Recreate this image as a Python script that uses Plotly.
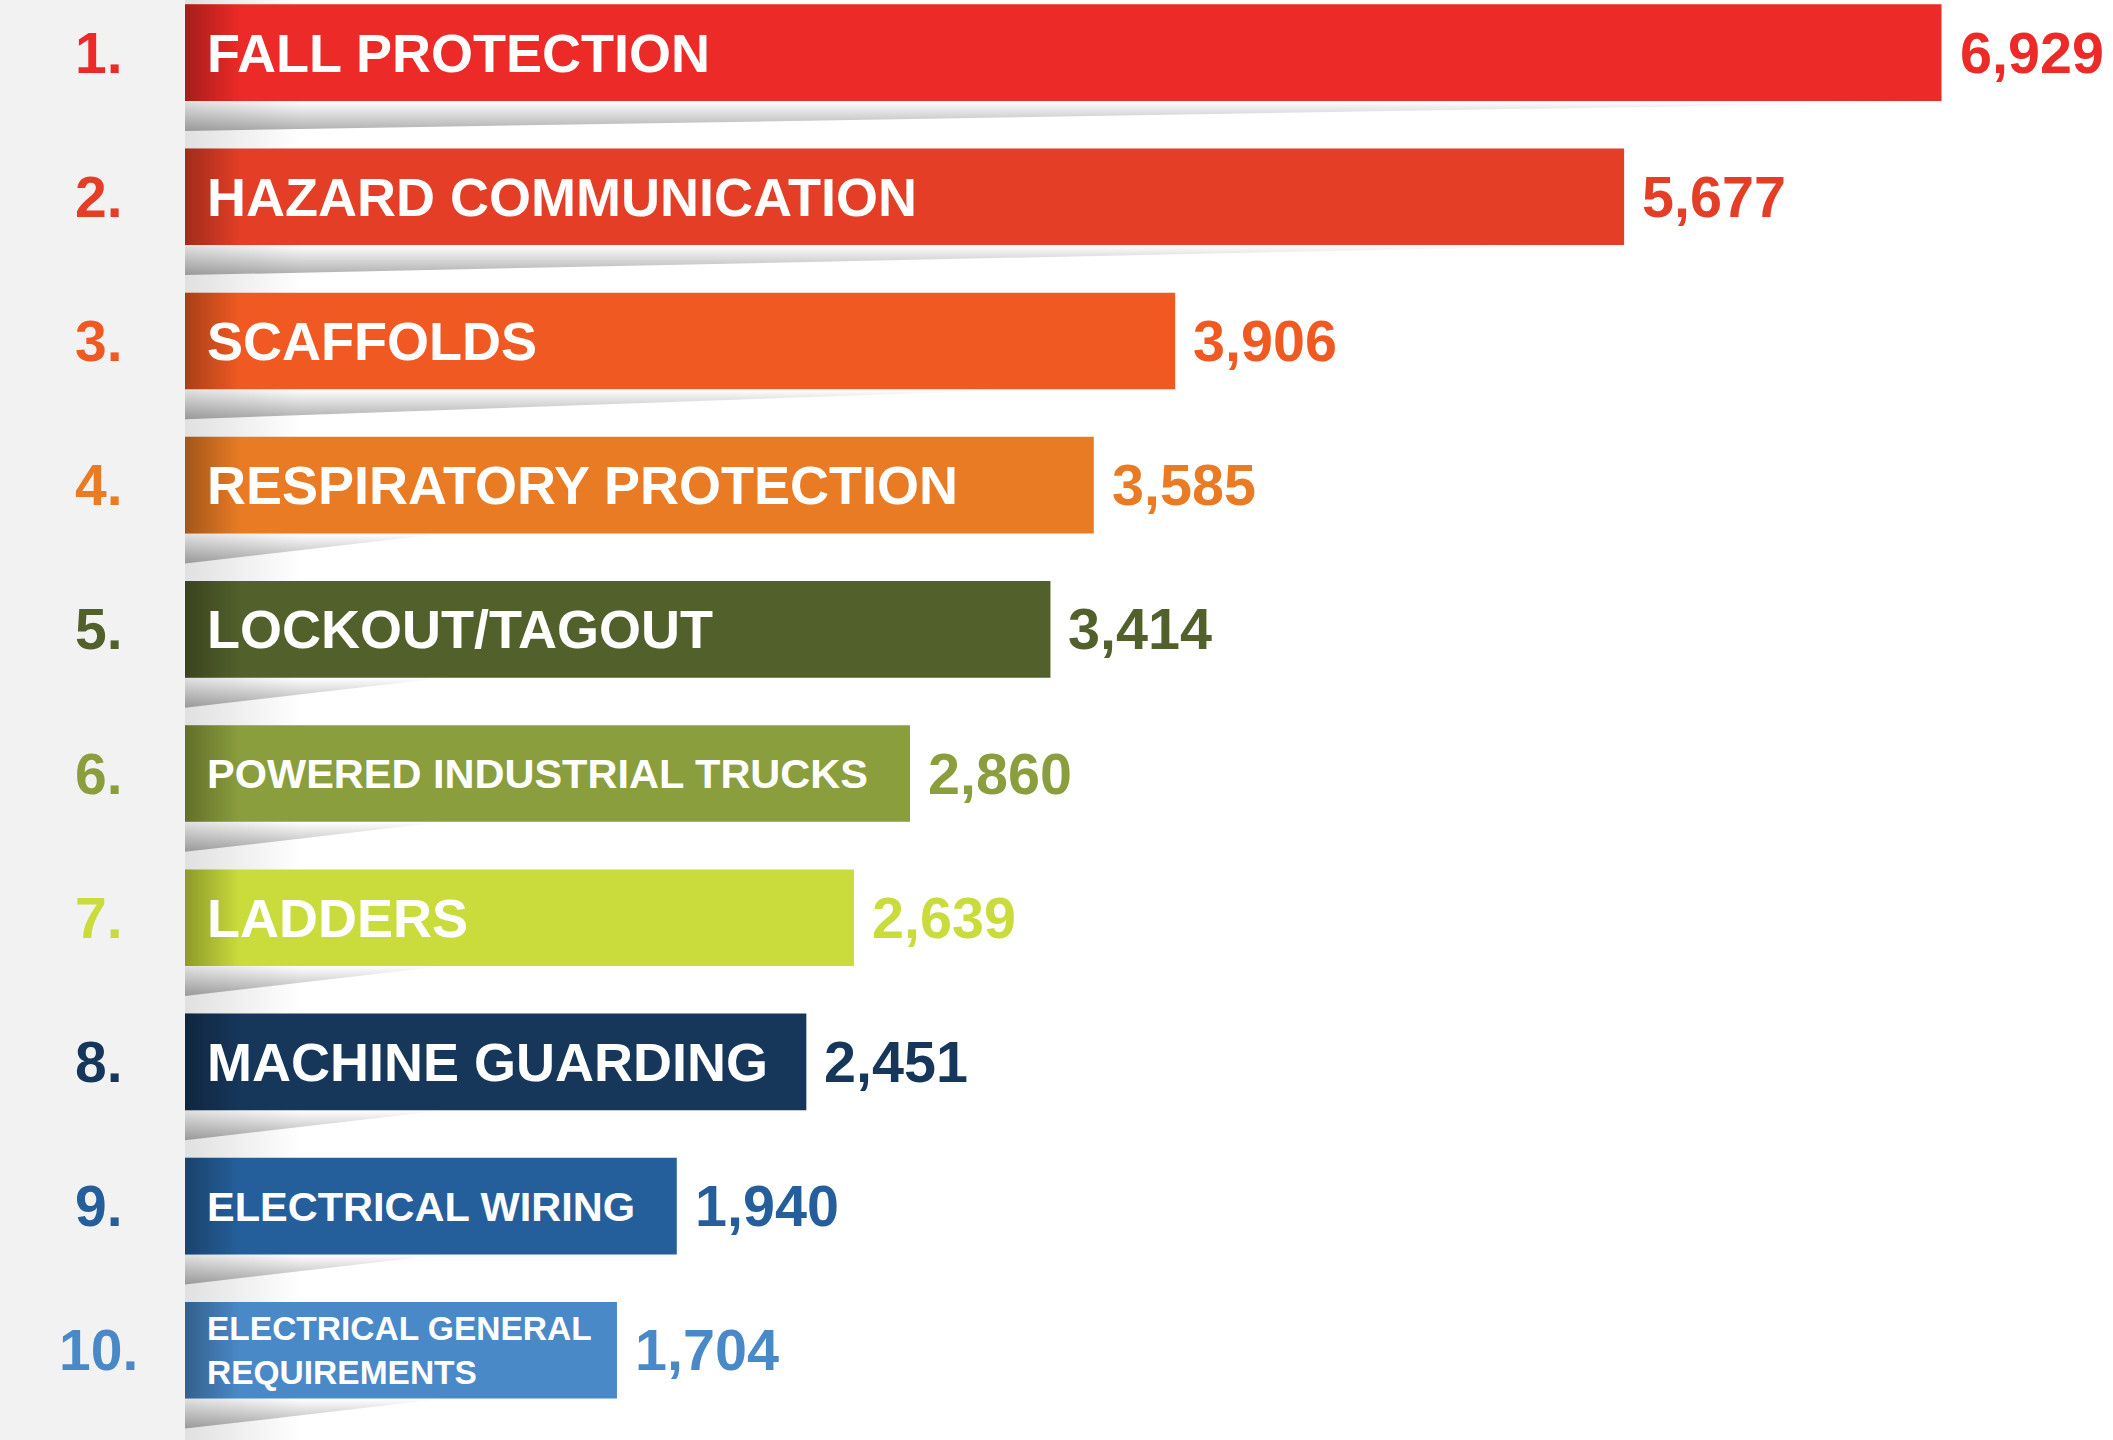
import plotly.graph_objects as go

# ---------------- data ----------------
ranks = ["1.", "2.", "3.", "4.", "5.", "6.", "7.", "8.", "9.", "10."]
categories = [
    "FALL PROTECTION",
    "HAZARD COMMUNICATION",
    "SCAFFOLDS",
    "RESPIRATORY PROTECTION",
    "LOCKOUT/TAGOUT",
    "POWERED INDUSTRIAL TRUCKS",
    "LADDERS",
    "MACHINE GUARDING",
    "ELECTRICAL WIRING",
    "ELECTRICAL GENERAL<br>REQUIREMENTS",
]
violations = [6929, 5677, 3906, 3585, 3414, 2860, 2639, 2451, 1940, 1704]

# ---------------- style ----------------
colors = ["#EC2A27", "#E43E26", "#F05A22", "#E87B24", "#52602B",
          "#8B9E3D", "#CADC3C", "#16365A", "#255F9B", "#4A89C8"]
label_sizes = [54, 54, 54, 54, 54, 41.5, 54, 54, 41.5, 33.5]
FONT = "Liberation Sans, Arial, sans-serif"

W, H = 2113, 1440
LEFT = 185                      # gray strip width (px)
PX_PER_UNIT = 0.2535            # horizontal scale
XMAX = (W - LEFT) / PX_PER_UNIT
ROW_PX = 144.19
Y_TOP = -52.6 / ROW_PX
Y_BOT = 9 + (H - 1350.3) / ROW_PX
BAR_W = 0.67
SHADOW_PX = [1825, 1430, 845, 260, 260, 260, 260, 260, 260, 260]
SHADOW_DEPTH = 30 / ROW_PX

n = len(violations)
pos = list(range(n))

fig = go.Figure()

# soft vertical shadow along the left edge of the white area (main axes, below bars)
sx = 460
fig.add_trace(go.Scatter(
    x=[0, sx, sx, 0, 0], y=[Y_TOP, Y_TOP, Y_BOT, Y_BOT, Y_TOP],
    mode="lines", fill="toself", line=dict(width=0, color="rgba(0,0,0,0)"),
    fillgradient=dict(type="horizontal",
                      colorscale=[[0, "rgba(0,0,0,0.12)"], [1, "rgba(0,0,0,0)"]]),
    hoverinfo="skip", showlegend=False, xaxis="x", yaxis="y"))

# wedge shadows under each bar
for i, v in enumerate(violations):
    yb = pos[i] + BAR_W / 2
    L = SHADOW_PX[i] / PX_PER_UNIT
    fig.add_trace(go.Scatter(
        x=[0, L, 0, 0], y=[yb, yb, yb + SHADOW_DEPTH, yb],
        mode="lines", fill="toself", line=dict(width=0, color="rgba(0,0,0,0)"),
        fillgradient=dict(type="vertical",
                          colorscale=[[0, "rgba(0,0,0,0.32)"], [1, "rgba(0,0,0,0)"]]),
        hoverinfo="skip", showlegend=False, xaxis="x", yaxis="y"))

# bars (overlay axes, drawn above shadows)
fig.add_trace(go.Bar(
    x=violations, y=pos, orientation="h", width=BAR_W,
    marker=dict(color=colors, line=dict(width=0)),
    hoverinfo="skip", showlegend=False, xaxis="x2", yaxis="y2"))

# dark fade on left end of each bar
gw = 55 / PX_PER_UNIT
for i, v in enumerate(violations):
    y0, y1 = pos[i] - BAR_W / 2, pos[i] + BAR_W / 2
    fig.add_trace(go.Scatter(
        x=[0, gw, gw, 0, 0], y=[y0, y0, y1, y1, y0],
        mode="lines", fill="toself", line=dict(width=0, color="rgba(0,0,0,0)"),
        fillgradient=dict(type="horizontal",
                          colorscale=[[0, "rgba(0,0,0,0.30)"], [1, "rgba(0,0,0,0)"]]),
        hoverinfo="skip", showlegend=False, xaxis="x2", yaxis="y2"))

annotations = []
for i, (r, c, v) in enumerate(zip(ranks, categories, violations)):
    # rank number in the gray strip
    annotations.append(dict(
        x=(98.5 - LEFT) / (W - LEFT), xref="paper", y=pos[i], yref="y2",
        text=f"<b>{r}</b>", showarrow=False, xanchor="center", yanchor="middle",
        font=dict(family=FONT, size=57, color=colors[i])))
    # category label inside the bar
    annotations.append(dict(
        x=0, xref="x2", y=pos[i], yref="y2", text=f"<b>{c}</b>",
        showarrow=False, xanchor="left", yanchor="middle", align="left",
        xshift=20, font=dict(family=FONT, size=label_sizes[i], color="white")))
    # value label to the right of the bar
    annotations.append(dict(
        x=v, xref="x2", y=pos[i], yref="y2", text=f"<b>{v:,}</b>",
        showarrow=False, xanchor="left", yanchor="middle", xshift=16,
        font=dict(family=FONT, size=57.5, color=colors[i])))

hidden = dict(visible=False, showgrid=False, zeroline=False, fixedrange=True)
fig.update_layout(
    width=W, height=H,
    margin=dict(l=LEFT, r=0, t=0, b=0, pad=0),
    paper_bgcolor="#F2F2F2", plot_bgcolor="white",
    xaxis=dict(range=[0, XMAX], **hidden),
    yaxis=dict(range=[Y_BOT, Y_TOP], **hidden),
    xaxis2=dict(range=[0, XMAX], overlaying="x", anchor="y2", **hidden),
    yaxis2=dict(range=[Y_BOT, Y_TOP], overlaying="y", anchor="x2", **hidden),
    annotations=annotations,
    barmode="overlay",
)

fig.write_html("out.html", config={"displayModeBar": False},
               post_script="document.body.style.margin='0';")
